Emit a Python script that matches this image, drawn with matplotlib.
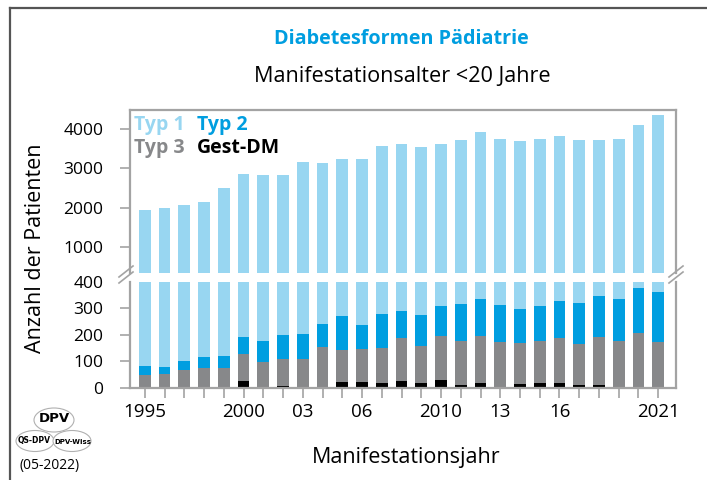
import matplotlib
matplotlib.use("Agg")
import matplotlib.pyplot as plt
from matplotlib.patches import Ellipse
from matplotlib.lines import Line2D
import numpy as np

plt.rcParams['font.family'] = ['Open Sans', 'DejaVu Sans']

years = list(range(1995, 2022))
tick_labels = {1995: "1995", 2000: "2000", 2003: "03", 2006: "06",
               2010: "2010", 2013: "13", 2016: "16", 2021: "2021"}

# cumulative heights (bottom to top: Gest-DM, Typ 3, Typ 2, Typ 1 = total)
cum_gest = [0, 0, 0, 0, 0, 26, 0, 8, 0, 4, 23, 23, 19, 26,
            19, 30, 11, 19, 4, 15, 19, 19, 11, 11, 4, 4, 4]
cum_typ3 = [49, 53, 69, 75, 75, 128, 99, 109, 109, 155, 143, 147, 151, 189,
            158, 196, 177, 196, 174, 170, 177, 189, 166, 192, 177, 208, 174]
cum_typ2 = [83, 79, 102, 117, 121, 192, 177, 200, 204, 242, 272, 238, 279, 291,
            275, 309, 317, 336, 313, 298, 309, 328, 321, 347, 336, 377, 362]
total = [1941, 1992, 2068, 2144, 2500, 2856, 2831, 2831, 3161, 3136, 3237, 3237,
         3568, 3619, 3543, 3619, 3721, 3924, 3746, 3695, 3746, 3822, 3721, 3721,
         3746, 4102, 4356]

gest = np.array(cum_gest)
typ3 = np.array(cum_typ3) - gest
typ2 = np.array(cum_typ2) - np.array(cum_typ3)
typ1 = np.array(total) - np.array(cum_typ2)

c_t1 = "#98d6f1"
c_t2 = "#009ee0"
c_t3 = "#87888a"
c_gd = "#000000"
c_spine = "#a3a3a3"

W, H = 707, 480
fig = plt.figure(figsize=(W / 100, H / 100), dpi=100)


def box(x0, y0, x1, y1):
    return [x0 / W, 1 - y1 / H, (x1 - x0) / W, (y1 - y0) / H]


ax_top = fig.add_axes(box(130, 110, 676, 273))
ax_bot = fig.add_axes(box(130, 281.5, 676, 388))

bw = 0.6
# upper panel: only the total (Typ 1 on top) is visible above the break
ax_top.bar(years, total, width=bw, color=c_t1, linewidth=0)
# lower panel: full stack
b = np.zeros(len(years))
for vals, col in ((gest, c_gd), (typ3, c_t3), (typ2, c_t2), (typ1, c_t1)):
    ax_bot.bar(years, vals, bottom=b, width=bw, color=col, linewidth=0)
    b = b + vals

for ax in (ax_top, ax_bot):
    ax.set_xlim(1994.25, 2021.9)
    for s in ax.spines.values():
        s.set_color(c_spine)
        s.set_linewidth(1.6)
    ax.tick_params(axis='both', colors=c_spine, length=7, width=1.2,
                   labelcolor='black', labelsize=12.5)
    ax.tick_params(axis='y', pad=12)

ax_top.set_ylim(340, 4483)
ax_top.set_yticks([1000, 2000, 3000, 4000])
ax_top.spines['bottom'].set_visible(False)
ax_top.set_xticks([])

ax_bot.set_ylim(0, 400)
ax_bot.set_yticks([0, 100, 200, 300, 400])
ax_bot.yaxis.get_major_ticks()[-1].tick1line.set_visible(False)
ax_bot.spines['top'].set_visible(False)
ax_bot.set_xticks(years)
ax_bot.set_xticklabels([tick_labels.get(y, "") for y in years])
ax_bot.tick_params(axis='x', pad=4, labelsize=13.5)

# break marks between the two panels
for xc in (126, 676):
    for dy in (0, 6):
        fig.add_artist(Line2D([(xc - 7) / W, (xc + 7) / W],
                              [1 - (283 - dy) / H, 1 - (272 - dy) / H],
                              color=c_spine, linewidth=1.2))

# titles
fig.text(401 / W, 1 - 39 / H, "Diabetesformen Pädiatrie", color=c_t2,
         fontsize=14.2, fontweight='bold', ha='center', va='center')
fig.text(402 / W, 1 - 76 / H, "Manifestationsalter <20 Jahre", color='black',
         fontsize=15.6, ha='center', va='center')
fig.text(406 / W, 1 - 457 / H, "Manifestationsjahr", color='black',
         fontsize=15.5, ha='center', va='center')
fig.text(36 / W, 1 - 248 / H, "Anzahl der Patienten", color='black',
         fontsize=15.5, ha='center', va='center', rotation=90)

# legend as coloured labels
leg_kw = dict(fontsize=14, fontweight='bold', ha='left', va='center')
fig.text(134 / W, 1 - 125 / H, "Typ 1", color=c_t1, **leg_kw)
fig.text(197 / W, 1 - 125 / H, "Typ 2", color=c_t2, **leg_kw)
fig.text(134 / W, 1 - 148 / H, "Typ 3", color=c_t3, **leg_kw)
fig.text(197 / W, 1 - 148 / H, "Gest-DM", color=c_gd, **leg_kw)

# page frame
fig.add_artist(Line2D([10 / W, 10 / W], [0, 1 - 8 / H], color="#555555", linewidth=1.6))
fig.add_artist(Line2D([10 / W, 1], [1 - 8 / H, 1 - 8 / H], color="#555555", linewidth=1.6))

# DPV logo
for (cx, cy, ew, eh) in ((54, 420, 40, 24), (35, 441, 38, 21), (72, 441, 38, 21)):
    fig.add_artist(Ellipse((cx / W, 1 - cy / H), ew / W, eh / H,
                           facecolor='white', edgecolor='#b0b0b0', linewidth=0.8))
logo_kw = dict(ha='center', va='center', fontweight='bold', color='black',
               family=['Liberation Sans Narrow', 'DejaVu Sans'])
fig.text(54 / W, 1 - 419 / H, "DPV", fontsize=9.5, **logo_kw)
fig.text(34 / W, 1 - 441 / H, "QS-DPV", fontsize=5.5, **logo_kw)
fig.text(73 / W, 1 - 442 / H, "DPV-Wiss", fontsize=5, **logo_kw)
fig.text(50 / W, 1 - 466 / H, "(05-2022)", fontsize=10, ha='center', va='center')

fig.savefig("out.png", dpi=100)
